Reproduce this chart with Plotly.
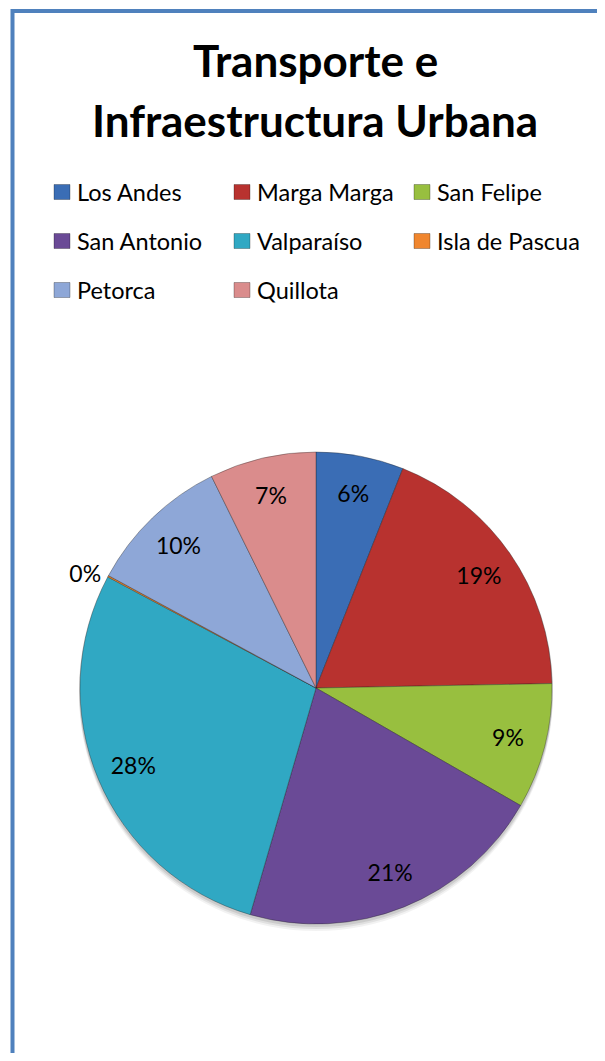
import plotly.graph_objects as go

categories = ["Los Andes", "Marga Marga", "San Felipe", "San Antonio",
              "Valparaíso", "Isla de Pascua", "Petorca", "Quillota"]
values = [6.0, 18.7, 8.6, 21.2, 28.3, 0.1, 9.8, 7.3]
colors = ["#3A6DB5", "#B8322F", "#98BF3F", "#6A4A96",
          "#30A8C3", "#F0862E", "#8EA7D7", "#DA8C8C"]
title_lines = ["Transporte e", "Infraestructura Urbana"]

# page body has an 8px margin, so the figure is 16px smaller than the window
OFF = 8
W, H = 605 - 2 * OFF, 1061 - 2 * OFF
FONT = "Lato"


def px(x):
    return (x - OFF) / W


def py(y):
    return 1 - (y - OFF) / H


PIE_L, PIE_R, PIE_T, PIE_B = 80, 552, 452, 924
pie_domain = dict(x=[px(PIE_L), px(PIE_R)], y=[py(PIE_B), py(PIE_T)])
textpos = ["outside" if v < 1 else "inside" for v in values]

fig = go.Figure()
# the coloured pie
fig.add_trace(go.Pie(
    labels=categories,
    values=values,
    sort=False,
    direction="clockwise",
    rotation=0,
    marker=dict(colors=colors, line=dict(color="rgba(30,30,30,0.35)", width=1)),
    textinfo="none",
    domain=pie_domain,
    showlegend=False,
    hoverinfo="label+percent",
))
# transparent ring carrying the percentage labels near the rim
fig.add_trace(go.Pie(
    labels=categories,
    values=values,
    sort=False,
    direction="clockwise",
    rotation=0,
    hole=0.68,
    marker=dict(colors=["rgba(0,0,0,0)"] * len(values), line=dict(width=0)),
    texttemplate="%{percent:.0%}",
    textposition=textpos,
    insidetextorientation="horizontal",
    textfont=dict(family=FONT, size=23, color="#000000"),
    outsidetextfont=dict(family=FONT, size=23, color="#000000"),
    domain=pie_domain,
    showlegend=False,
    hoverinfo="skip",
))

shapes = []
annotations = []

# soft drop shadow under the pie
for d, a in [(7, 0.05), (5, 0.07), (3, 0.09)]:
    shapes.append(dict(type="circle", xref="paper", yref="paper", layer="below",
                       x0=px(PIE_L - 1), x1=px(PIE_R + 1),
                       y0=py(PIE_B + d), y1=py(PIE_T + d - 2),
                       fillcolor=f"rgba(0,0,0,{a})", line=dict(width=0)))

# outer chart border (cropped at right/bottom as in reference)
shapes.append(dict(type="rect", xref="paper", yref="paper",
                   x0=px(12.5), x1=1.2, y0=-0.2, y1=py(11),
                   line=dict(color="#4F81BD", width=4), fillcolor="rgba(0,0,0,0)"))

# title lines
for i, line in enumerate(title_lines):
    annotations.append(dict(text=line, xref="paper", yref="paper",
                            x=px(315), y=py(60 + 60 * i), xanchor="center", yanchor="middle",
                            showarrow=False,
                            font=dict(family=FONT, size=44, color="#000000", weight="bold")))

# legend (3 columns)
col_x = [54, 234, 414]
row_y = [192, 241, 290]
for i, (name, c) in enumerate(zip(categories, colors)):
    r, k = divmod(i, 3)
    x0 = col_x[k]
    yc = row_y[r]
    shapes.append(dict(type="rect", xref="paper", yref="paper",
                       x0=px(x0), x1=px(x0 + 16), y0=py(yc + 7.5), y1=py(yc - 7.5),
                       fillcolor=c, line=dict(color="rgba(0,0,0,0.35)", width=0.8)))
    annotations.append(dict(text=name, xref="paper", yref="paper",
                            x=px(x0 + 21), y=py(yc), xanchor="left", yanchor="middle",
                            showarrow=False,
                            font=dict(family=FONT, size=23.5, color="#000000")))

fig.update_layout(
    width=W, height=H,
    margin=dict(l=0, r=0, t=0, b=0),
    paper_bgcolor="#FFFFFF",
    plot_bgcolor="#FFFFFF",
    shapes=shapes,
    annotations=annotations,
    showlegend=False,
)

fig.write_html("out.html")
